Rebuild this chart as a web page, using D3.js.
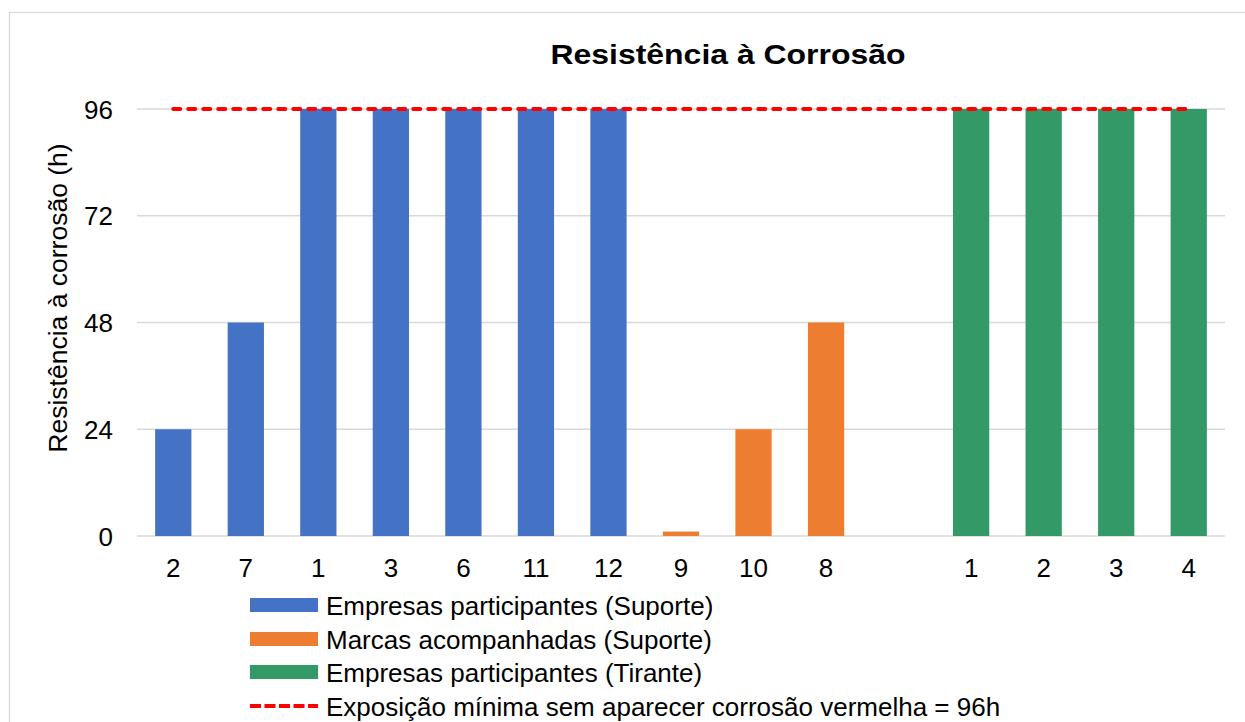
<!DOCTYPE html>
<html>
<head>
<meta charset="utf-8">
<script src="https://cdn.jsdelivr.net/npm/d3@7"></script>
<style>
  body { margin: 0; background: #fff; }
  text { font-family: "Liberation Sans", Arial, sans-serif; fill: #000; }
</style>
</head>
<body>
<div id="chart"></div>
<script>
// Data
var suporteCats = ["2", "7", "1", "3", "6", "11", "12"];
var suporteVals = [24, 48, 96, 96, 96, 96, 96];
var marcasCats = ["9", "10", "8"];
var marcasVals = [1, 24, 48];
var tiranteCats = ["1", "2", "3", "4"];
var tiranteVals = [96, 96, 96, 96];
var exposicaoMinima = 96;
var yTicks = [0, 24, 48, 72, 96];

var seriesNames = [
  "Empresas participantes (Suporte)",
  "Marcas acompanhadas (Suporte)",
  "Empresas participantes (Tirante)",
  "Exposição mínima sem aparecer corrosão vermelha = 96h"
];
var colors = ["#4472C4", "#ED7D31", "#339966", "#FF0000"];

var svgWidth = 1245;
var svgHeight = 722;

var margin = { top: 109, bottom: 722 - 536, left: 137, right: 1245 - 1225 };
var width = svgWidth - margin.left - margin.right;
var height = svgHeight - margin.top - margin.bottom;

// build one row per slot; an empty slot separates the two groups
var rows = [];
suporteCats.forEach(function(c, i) { rows.push({ key: "S" + c, label: c, value: suporteVals[i], s: 0 }); });
marcasCats.forEach(function(c, i) { rows.push({ key: "M" + c, label: c, value: marcasVals[i], s: 1 }); });
rows.push({ key: "gap", label: "", value: null, s: -1 });
tiranteCats.forEach(function(c, i) { rows.push({ key: "T" + c, label: c, value: tiranteVals[i], s: 2 }); });

var svg = d3.select("#chart")
  .append("svg")
  .attr("width", svgWidth)
  .attr("height", svgHeight);

// chart frame
svg.append("rect")
  .attr("x", 9.5)
  .attr("y", 12.5)
  .attr("width", 1260)
  .attr("height", 760)
  .attr("fill", "none")
  .attr("stroke", "#d9d9d9")
  .attr("stroke-width", 1.3);

var chartGroup = svg.append("g")
  .attr("transform", `translate(${margin.left}, ${margin.top})`);

var xBandScale = d3.scaleBand()
  .domain(rows.map(d => d.key))
  .range([0, width])
  .paddingInner(0.5)
  .paddingOuter(0.25);

var yLinearScale = d3.scaleLinear()
  .domain([0, 96])
  .range([height, 0]);

// gridlines
chartGroup.append("g")
  .selectAll("line")
  .data(yTicks)
  .enter()
  .append("line")
  .attr("x1", 0)
  .attr("x2", width)
  .attr("y1", d => yLinearScale(d))
  .attr("y2", d => yLinearScale(d))
  .attr("stroke", "#d9d9d9")
  .attr("stroke-width", 1.5);

// y axis (labels only)
var leftAxis = d3.axisLeft(yLinearScale).tickValues(yTicks).tickSize(0).tickPadding(24);
var yAxisG = chartGroup.append("g").call(leftAxis);
yAxisG.select(".domain").remove();
yAxisG.selectAll("text").style("font-size", "26px").attr("dy", "0.35em");

// x axis (labels only)
var bottomAxis = d3.axisBottom(xBandScale)
  .tickSize(0)
  .tickPadding(23)
  .tickFormat(k => rows.find(r => r.key === k).label);
var xAxisG = chartGroup.append("g")
  .attr("transform", `translate(0, ${height})`)
  .call(bottomAxis);
xAxisG.select(".domain").remove();
xAxisG.selectAll("text").style("font-size", "26px");

// bars
chartGroup.selectAll(".bar")
  .data(rows.filter(d => d.value !== null))
  .enter()
  .append("rect")
  .attr("class", "bar")
  .attr("x", d => xBandScale(d.key))
  .attr("y", d => yLinearScale(d.value))
  .attr("width", xBandScale.bandwidth())
  .attr("height", d => height - yLinearScale(d.value))
  .attr("fill", d => colors[d.s]);

// minimum exposure line, from first to last category centre
var lineRows = rows.filter(d => d.value !== null);
var minLine = d3.line()
  .x(d => xBandScale(d.key) + xBandScale.bandwidth() / 2)
  .y(() => yLinearScale(exposicaoMinima));
chartGroup.append("path")
  .datum([lineRows[0], lineRows[lineRows.length - 1]])
  .attr("d", minLine)
  .attr("fill", "none")
  .attr("stroke", colors[3])
  .attr("stroke-width", 4)
  .attr("stroke-linecap", "round")
  .attr("stroke-dasharray", "7,8");

// title
svg.append("text")
  .attr("x", 728)
  .attr("y", 64)
  .attr("text-anchor", "middle")
  .attr("textLength", 355)
  .attr("lengthAdjust", "spacingAndGlyphs")
  .style("font-size", "28px")
  .style("font-weight", "bold")
  .text("Resistência à Corrosão");

// y axis label
svg.append("text")
  .attr("transform", "rotate(-90)")
  .attr("x", -298)
  .attr("y", 67)
  .attr("text-anchor", "middle")
  .style("font-size", "26.5px")
  .text("Resistência à corrosão (h)");

// legend
var legend = svg.append("g")
  .attr("transform", "translate(250, 605)");

var legendItems = legend.selectAll("g")
  .data(seriesNames)
  .enter()
  .append("g")
  .attr("transform", (d, i) => `translate(0, ${[0, 34, 67, 101][i]})`);

legendItems.filter((d, i) => i < 3)
  .append("rect")
  .attr("x", 0)
  .attr("y", -7)
  .attr("width", 68)
  .attr("height", 14)
  .attr("fill", (d, i) => colors[i]);

legendItems.filter((d, i) => i === 3)
  .append("line")
  .attr("x1", 0)
  .attr("x2", 68)
  .attr("y1", 0)
  .attr("y2", 0)
  .attr("stroke", colors[3])
  .attr("stroke-width", 4)
  .attr("stroke-dasharray", "11,3.5");

legendItems.append("text")
  .attr("x", 76)
  .attr("y", 9.5)
  .style("font-size", "26px")
  .text(d => d);
</script>
</body>
</html>
